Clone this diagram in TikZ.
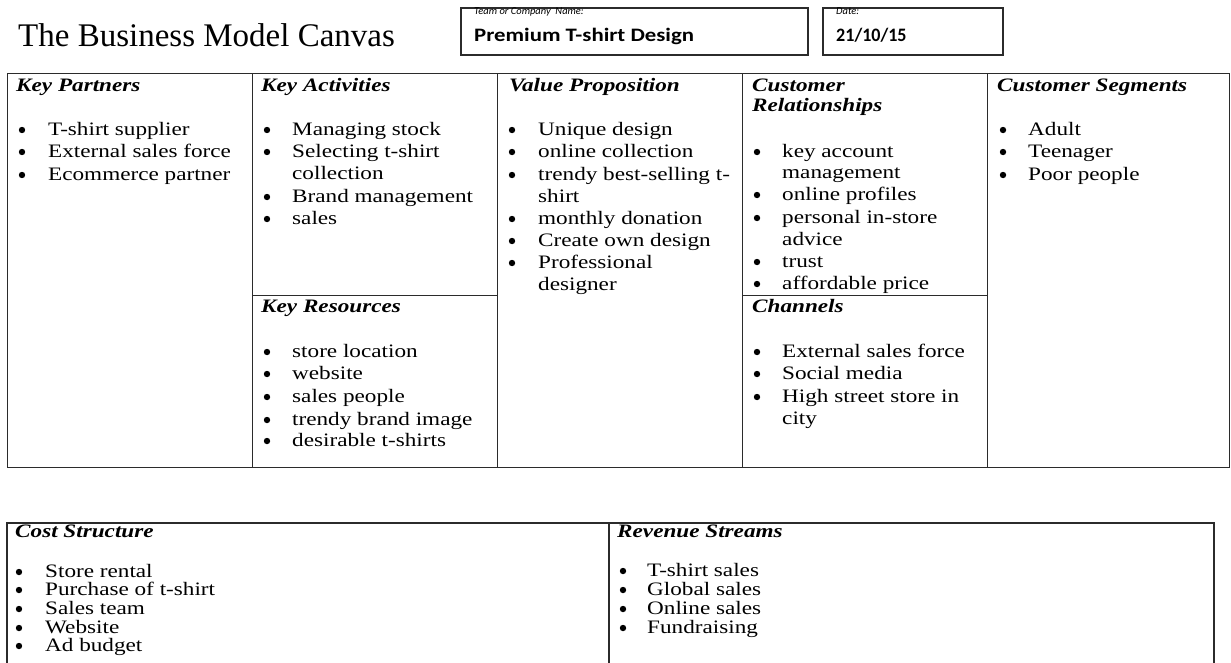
\documentclass[tikz,border=0pt]{standalone}
\usepackage{fontspec}
\setmainfont{Liberation Serif}
\newfontfamily\bodyf{Liberation Serif}[FakeStretch=1.22]
\newfontfamily\gillb{Carlito}[FakeStretch=1.2]
\newfontfamily\gilld{Carlito}[FakeStretch=0.95]
\newfontfamily\gillsm{Carlito}
\definecolor{linec}{HTML}{2B2B2B}
\tikzset{
  cell/.style={draw=linec, line width=1.4pt, rectangle, inner sep=0pt, anchor=north west},
  txt/.style={inner sep=0pt, anchor=base west, font=\bodyf\fontsize{19}{19}\selectfont},
  hdr/.style={txt, font=\bodyf\fontsize{19}{19}\selectfont\bfseries\itshape},
  bul/.style={circle, fill=black, inner sep=0pt, minimum size=6.4pt},
  infobox/.style={draw=linec, line width=1.6pt, rectangle, inner sep=0pt, anchor=north west},
  tinylbl/.style={inner sep=0pt, anchor=base west, font=\gillsm\fontsize{10.5}{10.5}\selectfont\itshape},
  biglbl/.style={inner sep=0pt, anchor=base west, font=\gillb\fontsize{19}{19}\selectfont\bfseries},
}
% #1 name prefix, #2 bullet x, #3 text x, #4 list y/text/flag
\newcommand\itemlist[4]{%
  \foreach \yy/\lbl/\flag in {#4}{%
    \ifnum\flag=1 \node[bul] (#1b\yy) at (#2,\yy) {};\fi
    \node[txt] (#1t\yy) at (#3,\yy+5) {\lbl};
  }%
}
\begin{document}
\begin{tikzpicture}[x=1pt,y=-1pt]
\useasboundingbox (0,0) rectangle (1231,662);
\fill[white] (0,0) rectangle (1231,662);

% header
\node[inner sep=0pt, anchor=base west, font=\fontsize{33}{33}\selectfont] (title) at (18,46) {The Business Model Canvas};
\node[infobox, minimum width=347pt, minimum height=47pt] (team) at (460,7) {};
\node[infobox, minimum width=180pt, minimum height=47pt] (date) at (822,7) {};
\node[tinylbl] (teamlbl) at (474,14) {Team or Company~~Name:};
\node[biglbl] (teamval) at (474,41) {Premium T-shirt Design};
\node[tinylbl] (datelbl) at (836,14) {Date:};
\node[biglbl, font=\gilld\fontsize{19}{19}\selectfont\bfseries] (dateval) at (836,41) {21/10/15};

% canvas cells
\node[cell, minimum width=245pt, minimum height=394pt] (kp) at (7,73) {};
\node[cell, minimum width=245pt, minimum height=222pt] (ka) at (252,73) {};
\node[cell, minimum width=245pt, minimum height=172pt] (kr) at (252,295) {};
\node[cell, minimum width=245pt, minimum height=394pt] (vp) at (497,73) {};
\node[cell, minimum width=245pt, minimum height=222pt] (cr) at (742,73) {};
\node[cell, minimum width=245pt, minimum height=172pt] (ch) at (742,295) {};
\node[cell, minimum width=242pt, minimum height=394pt] (cs) at (987,73) {};

% headers
\node[hdr] (hkp) at (16,91) {Key Partners};
\node[hdr] (hka) at (261,91) {Key Activities};
\node[hdr] (hkr) at (261,312) {Key Resources};
\node[hdr] (hvp) at (509,91) {Value Proposition};
\node[hdr] (hcr1) at (752,91) {Customer};
\node[hdr] (hcr2) at (752,111) {Relationships};
\node[hdr] (hch) at (752,312) {Channels};
\node[hdr] (hcs) at (997,91) {Customer Segments};

% lists
\itemlist{kp}{22}{48}{130/T-shirt supplier/1, 152/External sales force/1, 175/Ecommerce partner/1}
\itemlist{ka}{267}{292}{130/Managing stock/1, 152/Selecting t-shirt/1, 174/collection/0, 197/Brand management/1, 219/sales/1}
\itemlist{kr}{267}{292}{352/store location/1, 374/website/1, 397/sales people/1, 420/trendy brand image/1, 441/desirable t-shirts/1}
\itemlist{vp}{512}{538}{130/Unique design/1, 152/online collection/1, 175/trendy best-selling t-/1, 197/shirt/0, 219/monthly donation/1, 241/Create own design/1, 263/Professional/1, 285/designer/0}
\itemlist{cr}{757}{782}{152/key account/1, 173/management/0, 195/online profiles/1, 218/personal in-store/1, 240/advice/0, 262/trust/1, 284/affordable price/1}
\itemlist{ch}{757}{782}{352/External sales force/1, 374/Social media/1, 397/High street store in/1, 419/city/0}
\itemlist{cs}{1003}{1028}{130/Adult/1, 152/Teenager/1, 175/Poor people/1}

% bottom table
\coordinate (btl) at (7,523);
\coordinate (btr) at (1214,523);
\coordinate (btm) at (609,523);
\draw[draw=linec, line width=1.8pt] (7,664) -- (btl) -- (btr) -- (1214,664);
\draw[draw=linec, line width=1.6pt] (btm) -- (609,664);
\node[hdr] (hcost) at (15,537) {Cost Structure};
\node[hdr] (hrev) at (617,537) {Revenue Streams};
\itemlist{cost}{19}{45}{572/Store rental/1, 590/Purchase of t-shirt/1, 609/Sales team/1, 628/Website/1, 646/Ad budget/1}
\itemlist{rev}{623}{647}{571/T-shirt sales/1, 590/Global sales/1, 609/Online sales/1, 628/Fundraising/1}
\end{tikzpicture}
\end{document}
